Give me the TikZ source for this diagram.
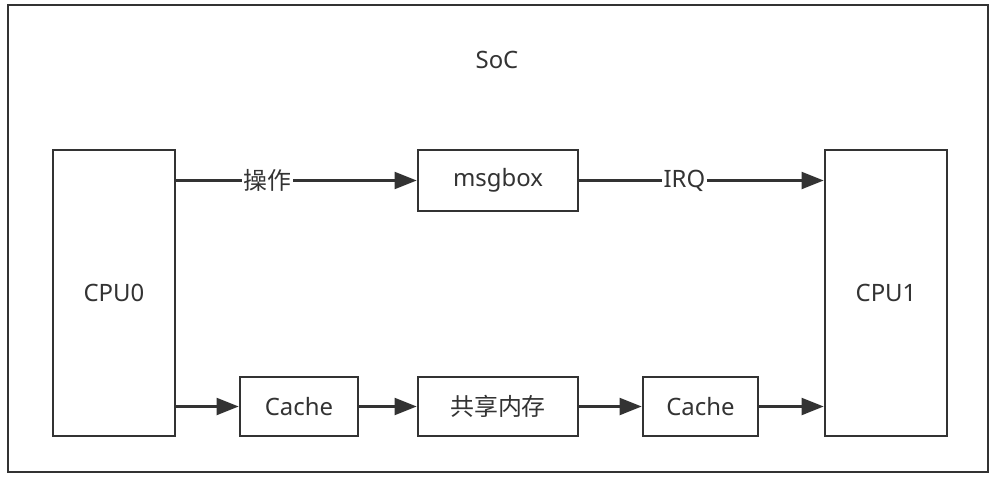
\documentclass[tikz,border=0pt]{standalone}
\usepackage{fontspec}
\setmainfont{Noto Sans}
\newfontfamily\cjk{Noto Sans CJK SC}
\usepackage{tikz}
\usetikzlibrary{arrows.meta, positioning}
\definecolor{ink}{HTML}{333333}
\tikzstyle{block} = [rectangle, draw=ink, line width=1.8pt, fill=white, text=ink, text centered, inner sep=0pt]
\tikzstyle{arrow} = [draw=ink, line width=1.8pt, -{Triangle[length=0.55cm, width=0.42cm]}]
\tikzstyle{lbl} = [fill=white, text=ink, inner sep=1pt]

\begin{document}
\begin{tikzpicture}[x=0.025cm, y=-0.025cm, font=\fontsize{17}{20}\selectfont]
\useasboundingbox (0,0) rectangle (995,481);
% SoC frame
\draw [draw=ink, line width=1.8pt] (8,5) rectangle (988,472);
\node (soc) [text=ink] at (497,60) {SoC};
% Define nodes
\node (cpu0) [block, minimum width=3.05cm, minimum height=7.15cm] at (114,293) {CPU0};
\node (cpu1) [block, minimum width=3.05cm, minimum height=7.15cm] at (886,293) {CPU1};
\node (msgbox) [block, minimum width=4cm, minimum height=1.525cm] at (498,180.5) {msgbox};
\node (cache0) [block, minimum width=2.95cm, minimum height=1.475cm] at (299,406.5) {Cache};
\node (shm) [block, minimum width=4cm, minimum height=1.475cm] at (498,406.5) {\cjk 共享内存};
\node (cache1) [block, minimum width=2.875cm, minimum height=1.475cm] at (700.5,406.5) {Cache};
% Connect nodes with arrows
\draw [arrow] (cpu0.east |- msgbox.west) -- node [lbl, pos=0.38] {\cjk 操作} (msgbox.west);
\draw [arrow] (msgbox.east) -- node [lbl, pos=0.43] {IRQ} (cpu1.west |- msgbox.east);
\draw [arrow] (cpu0.east |- cache0.west) -- (cache0.west);
\draw [arrow] (cache0.east) -- (shm.west);
\draw [arrow] (shm.east) -- (cache1.west);
\draw [arrow] (cache1.east) -- (cpu1.west |- cache1.east);
\end{tikzpicture}
\end{document}
